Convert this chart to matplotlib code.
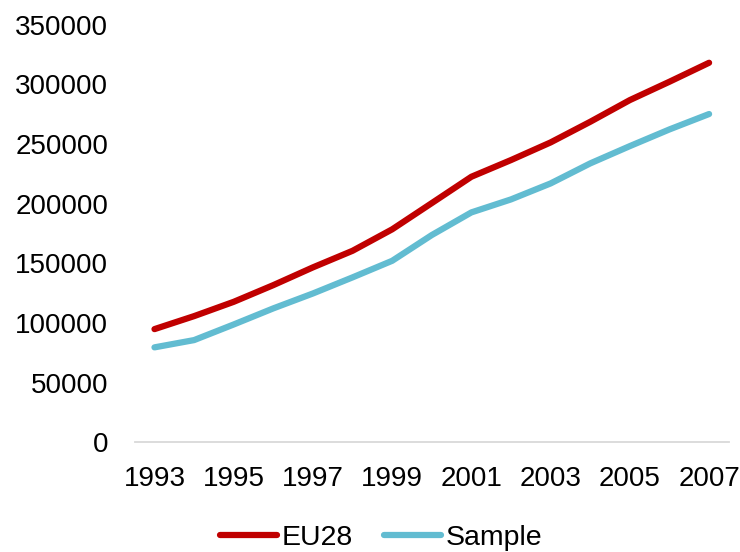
import matplotlib
matplotlib.use("Agg")
import matplotlib.pyplot as plt

years = list(range(1993, 2008))
eu28 = [94800, 105700, 117700, 131700, 146600, 160500, 178500, 200500,
        222600, 236600, 251400, 268700, 286900, 302300, 318200]
sample = [79500, 85600, 98700, 112200, 124700, 138200, 152100, 173700,
          192700, 203600, 217000, 233800, 248300, 262300, 275200]
xtick_labels = [str(y) for y in range(1993, 2008, 2)]
yticks = list(range(0, 350001, 50000))

plt.rcParams['font.family'] = ['Liberation Sans', 'DejaVu Sans']

fig = plt.figure(figsize=(7.4, 5.52), dpi=100)
ax = fig.add_axes([0.182, 0.199, 0.803, 0.756])

idx = list(range(len(years)))
ax.plot(idx, eu28, color='#C00000', lw=4.5, solid_capstyle='round', label='EU28')
ax.plot(idx, sample, color='#62BCD1', lw=4.5, solid_capstyle='round', label='Sample')

ax.set_xlim(-0.5, len(years) - 0.5)
ax.set_ylim(0, 350000)
ax.set_yticks(yticks)
ax.set_yticklabels([str(v) for v in yticks])
ax.set_xticks(idx[::2])
ax.set_xticklabels(xtick_labels)

for s in ['top', 'right', 'left']:
    ax.spines[s].set_visible(False)
ax.spines['bottom'].set_color('#D9D9D9')
ax.spines['bottom'].set_linewidth(1.3)
ax.tick_params(axis='both', length=0, labelsize=20, colors='black')
ax.tick_params(axis='y', pad=19)
ax.tick_params(axis='x', pad=17)

leg = fig.legend(loc='lower center', bbox_to_anchor=(0.515, -0.045), ncol=2,
                 frameon=False, fontsize=20.5, handlelength=2.0,
                 handletextpad=0.15, columnspacing=1.1)

fig.savefig('out.png', dpi=100)
